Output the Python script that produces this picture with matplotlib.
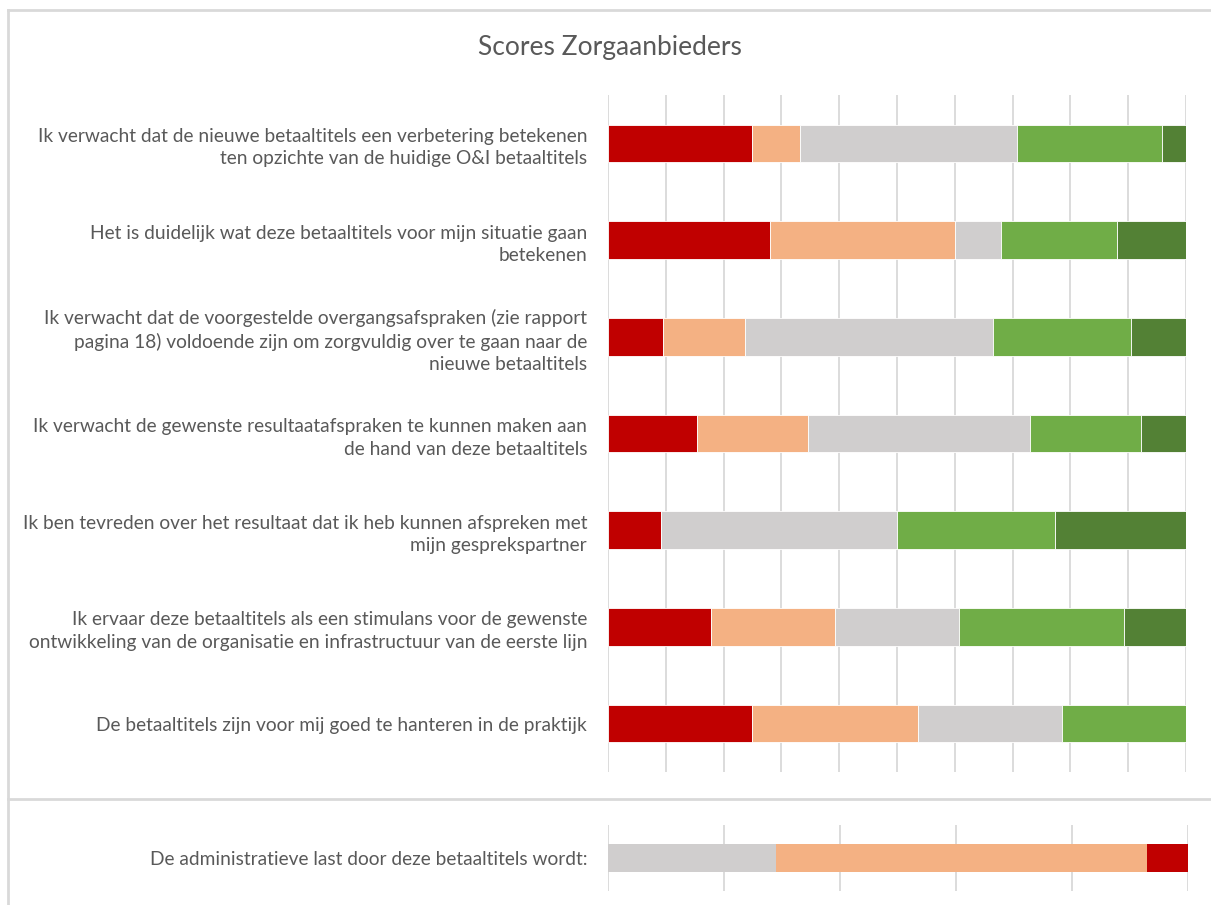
import matplotlib.pyplot as plt
from matplotlib.lines import Line2D

# statements, top to bottom
statements = [
    "Ik verwacht dat de nieuwe betaaltitels een verbetering betekenen\nten opzichte van de huidige O&I betaaltitels",
    "Het is duidelijk wat deze betaaltitels voor mijn situatie gaan\nbetekenen",
    "Ik verwacht dat de voorgestelde overgangsafspraken (zie rapport\npagina 18) voldoende zijn om zorgvuldig over te gaan naar de\nnieuwe betaaltitels",
    "Ik verwacht de gewenste resultaatafspraken te kunnen maken aan\nde hand van deze betaaltitels",
    "Ik ben tevreden over het resultaat dat ik heb kunnen afspreken met\nmijn gesprekspartner",
    "Ik ervaar deze betaaltitels als een stimulans voor de gewenste\nontwikkeling van de organisatie en infrastructuur van de eerste lijn",
    "De betaaltitels zijn voor mij goed te hanteren in de praktijk",
]

# percentages per answer category
helemaal_oneens = [25.0, 28.0, 9.5, 15.4, 9.1, 17.9, 25.0]
oneens = [8.3, 32.0, 14.3, 19.2, 0.0, 21.4, 28.6]
neutraal = [37.5, 8.0, 42.9, 38.5, 40.9, 21.4, 25.0]
eens = [25.0, 20.0, 23.8, 19.2, 27.3, 28.6, 21.4]
helemaal_eens = [4.2, 12.0, 9.5, 7.7, 22.7, 10.7, 0.0]

admin_label = "De administratieve last door deze betaaltitels wordt:"
admin_parts = [29.0, 64.0, 7.0]  # gray, salmon, red

RED = '#C00000'
SALMON = '#F4B183'
GRAY = '#D0CECE'
GREEN = '#70AD47'
DKGREEN = '#538135'
GRID = '#D9D9D9'
TXT = '#595959'

plt.rcParams['font.family'] = ['Lato', 'DejaVu Sans']

fig = plt.figure(figsize=(12.11, 9.05), dpi=100)

# ---- top panel ----
ax = fig.add_axes([0.502, 0.147, 0.4773, 0.748])
ypos = list(range(len(statements)))
series = [helemaal_oneens, oneens, neutraal, eens, helemaal_eens]
colors = [RED, SALMON, GRAY, GREEN, DKGREEN]
left = [0.0] * len(statements)
for vals, c in zip(series, colors):
    ax.barh(ypos, vals, left=left, height=0.39, color=c,
            edgecolor='white', linewidth=0.6, zorder=3)
    left = [l + v for l, v in zip(left, vals)]

ax.set_xlim(0, 100)
ax.set_ylim(len(statements) - 0.5, -0.5)
ax.set_xticks(range(0, 101, 10))
ax.set_xticklabels([])
ax.set_yticks(ypos)
ax.set_yticklabels(statements, fontsize=13.8, color=TXT, linespacing=1.4)
ax.tick_params(length=0, pad=15)
ax.grid(axis='x', color=GRID, linewidth=1.3, zorder=0)
for s in ax.spines.values():
    s.set_visible(False)

# ---- bottom panel ----
ax2 = fig.add_axes([0.502, 0.0155, 0.4790, 0.0729])
left = 0.0
for v, c in zip(admin_parts, [GRAY, SALMON, RED]):
    ax2.barh([0], [v], left=left, height=0.41, color=c, zorder=3)
    left += v
ax2.set_xlim(0, 100)
ax2.set_ylim(0.5, -0.5)
ax2.set_xticks(range(0, 101, 20))
ax2.set_xticklabels([])
ax2.set_yticks([0])
ax2.set_yticklabels([admin_label], fontsize=13.8, color=TXT)
ax2.tick_params(length=0, pad=15)
ax2.grid(axis='x', color=GRID, linewidth=1.3, zorder=0)
for s in ax2.spines.values():
    s.set_visible(False)

fig.text(0.504, 0.947, "Scores Zorgaanbieders", ha='center', va='center',
         fontsize=19, color=TXT)

# panel frames
x0 = 7.5 / 1211
fig.add_artist(Line2D([x0, 1], [1 - 10.5 / 905] * 2, color=GRID, lw=2, transform=fig.transFigure))
fig.add_artist(Line2D([x0, x0], [0, 1 - 10.5 / 905], color=GRID, lw=2, transform=fig.transFigure))
fig.add_artist(Line2D([x0, 1], [1 - 799 / 905] * 2, color=GRID, lw=2, transform=fig.transFigure))

fig.savefig('out.png', dpi=100)
